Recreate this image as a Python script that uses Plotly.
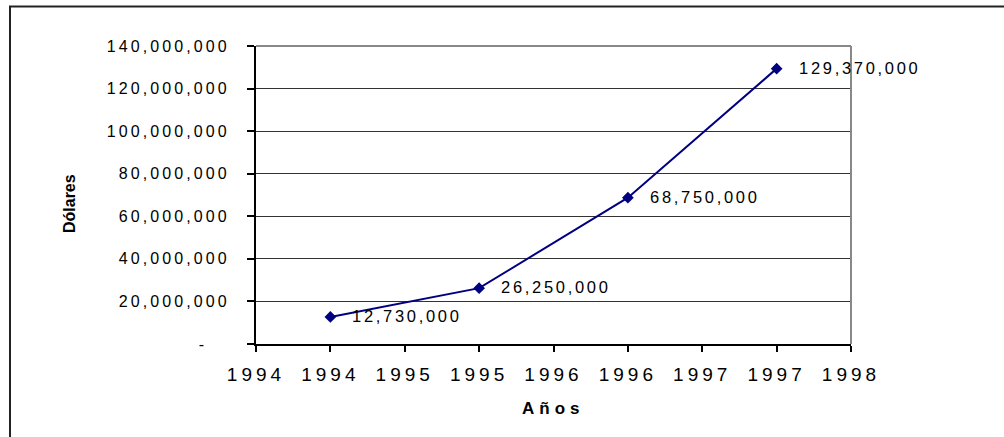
import plotly.graph_objects as go

# ---- data ----
years = [1994, 1995, 1996, 1997]
dollars = [12730000, 26250000, 68750000, 129370000]
value_labels = ["12,730,000", "26,250,000", "68,750,000", "129,370,000"]

x_tick_vals = [1993.5, 1994, 1994.5, 1995, 1995.5, 1996, 1996.5, 1997, 1997.5]
x_tick_labels = ["1994", "1994", "1995", "1995", "1996", "1996", "1997", "1997", "1998"]
y_tick_vals = [0, 20000000, 40000000, 60000000, 80000000, 100000000, 120000000, 140000000]
y_tick_labels = ["-\u00a0\u00a0\u00a0", "20,000,000", "40,000,000", "60,000,000", "80,000,000",
                 "100,000,000", "120,000,000", "140,000,000"]

x_title = "Años"
y_title = "Dólares"

FONT = "Liberation Sans, Arial, sans-serif"

fig = go.Figure()
fig.add_trace(go.Scatter(
    x=years, y=dollars, mode="lines+markers",
    line=dict(color="#000080", width=2),
    marker=dict(symbol="diamond", size=9, color="#000080"),
    showlegend=False, hoverinfo="skip",
))

annotations = []
for xv, yv, lab in zip(years, dollars, value_labels):
    annotations.append(dict(
        x=xv, y=yv, xref="x", yref="y", text=lab, showarrow=False,
        xanchor="left", yanchor="middle", align="left", xshift=20, yshift=1,
        font=dict(family=FONT, size=16.5, color="#000"),
    ))
# axis titles
annotations.append(dict(
    x=0.5, y=-0.218, xref="paper", yref="paper", text="<b>%s</b>" % x_title,
    showarrow=False, xanchor="center", yanchor="middle",
    font=dict(family=FONT, size=17, color="#000"),
))
annotations.append(dict(
    x=-0.3143, y=0.473, xref="paper", yref="paper", text="<b>%s</b>" % y_title,
    showarrow=False, xanchor="center", yanchor="middle", textangle=-90,
    font=dict(family=FONT, size=16, color="#000"),
))

shapes = [
    # outer chart border (cropped at right/bottom)
    dict(type="rect", xref="paper", yref="paper", x0=-0.41345, x1=1.3, y0=-0.4, y1=1.1326,
         line=dict(color="#222", width=2), layer="below"),
    # plot area top / right border (gray)
    dict(type="line", xref="paper", yref="paper", x0=0, x1=1, y0=1, y1=1,
         line=dict(color="#888", width=2), layer="above"),
    dict(type="line", xref="paper", yref="paper", x0=1, x1=1, y0=0, y1=1,
         line=dict(color="#888", width=2), layer="above"),
]

fig.update_layout(
    width=1004, height=437,
    margin=dict(l=256, r=153, t=46, b=93),
    paper_bgcolor="white", plot_bgcolor="white",
    font=dict(family=FONT, color="#000"),
    annotations=annotations, shapes=shapes,
    xaxis=dict(
        range=[1993.5, 1997.5], tickmode="array", tickvals=x_tick_vals, ticktext=x_tick_labels,
        showgrid=False, zeroline=False, showline=True, linecolor="#000", linewidth=1.5,
        ticks="outside", ticklen=6, tickwidth=1.5, tickcolor="#000",
        tickfont=dict(family=FONT, size=19, color="#000"), ticklabelstandoff=6,
    ),
    yaxis=dict(
        range=[0, 140000000], tickmode="array", tickvals=y_tick_vals, ticktext=y_tick_labels,
        showgrid=True, gridcolor="#333", gridwidth=1, zeroline=False,
        showline=True, linecolor="#000", linewidth=2,
        ticks="outside", ticklen=7, tickwidth=1.5, tickcolor="#000",
        tickfont=dict(family=FONT, size=16, color="#000"), ticklabelstandoff=14,
    ),
)

css = (
    "html,body{margin:0;padding:0;overflow:hidden}"
    ".xtick text{letter-spacing:4px}"
    ".ytick text{letter-spacing:3.1px}"
    ".annotation text.annotation-text{letter-spacing:2.7px}"
    ".annotation[data-index='4'] text.annotation-text{letter-spacing:5px}"
    ".annotation[data-index='5'] text.annotation-text{letter-spacing:0px}"
)
post = ("var s=document.createElement('style');s.innerHTML=\"%s\";"
        "document.head.appendChild(s);" % css)

fig.write_html("out.html", post_script=post, config={"displayModeBar": False})
